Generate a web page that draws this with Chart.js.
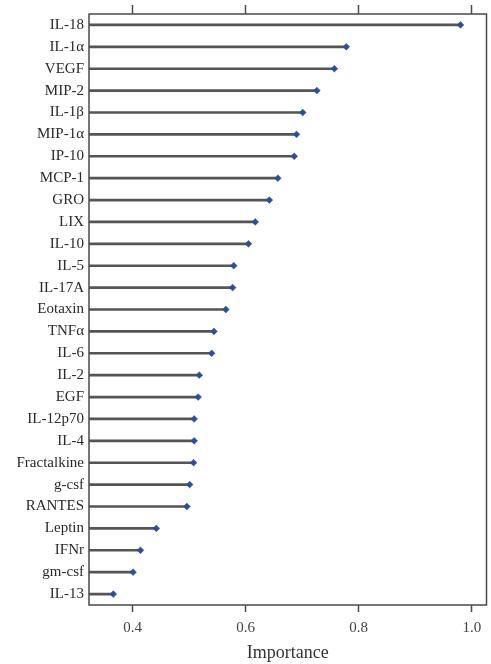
<!DOCTYPE html>
<html>
<head>
<meta charset="utf-8">
<script src="https://cdn.jsdelivr.net/npm/chart.js@4"></script>
<style>
  html, body { margin: 0; padding: 0; background: #fff; }
  #wrap { width: 491px; height: 664px; }
</style>
</head>
<body>
<div id="wrap"><canvas id="importanceChart"></canvas></div>
<script>
/* --------------- Data --------------------- */
const cytokines = [
  "IL-18", "IL-1α", "VEGF", "MIP-2", "IL-1β", "MIP-1α", "IP-10", "MCP-1", "GRO",
  "LIX", "IL-10", "IL-5", "IL-17A", "Eotaxin", "TNFα", "IL-6", "IL-2", "EGF",
  "IL-12p70", "IL-4", "Fractalkine", "g-csf", "RANTES", "Leptin", "IFNr", "gm-csf", "IL-13"
];
const importance = [
  0.980, 0.778, 0.757, 0.726, 0.701, 0.690, 0.686, 0.657, 0.642,
  0.617, 0.605, 0.579, 0.577, 0.565, 0.544, 0.540, 0.518, 0.516,
  0.509, 0.509, 0.508, 0.501, 0.496, 0.442, 0.414, 0.401, 0.366
];
const xTicks = [0.4, 0.6, 0.8, 1.0];
const xMin = 0.323;
const xMax = 1.026;

const serif = "'Liberation Serif', 'DejaVu Serif', serif";
const axisColor = "#4a4a4a";

/* --------------- Box around the plot --------------------- */
const frame = {
  id: "frame",
  afterDraw(chart) {
    const { ctx, chartArea: a } = chart;
    ctx.save();
    ctx.strokeStyle = axisColor;
    ctx.lineWidth = 1.5;
    ctx.strokeRect(a.left, a.top, a.right - a.left, a.bottom - a.top);
    ctx.restore();
  },
};

const setTicks = (scale) => {
  scale.ticks = xTicks.map((v) => ({ value: v }));
};

new Chart(document.getElementById("importanceChart"), {
  type: "bar",
  plugins: [frame],
  data: {
    labels: cytokines,
    datasets: [
      {
        type: "line",
        indexAxis: "y",
        data: importance,
        showLine: false,
        pointStyle: "rectRot",
        pointRadius: 3.4,
        pointBackgroundColor: "#2d4f98",
        pointBorderColor: "#2d4f98",
        pointBorderWidth: 0.5,
        clip: false,
      },
      {
        type: "bar",
        indexAxis: "y",
        data: importance,
        base: xMin,
        barThickness: 2,
        backgroundColor: "#555555",
      },
    ],
  },
  options: {
    indexAxis: "y",
    responsive: true,
    maintainAspectRatio: false,
    animation: false,
    layout: { padding: { left: 0, right: 0, top: 0, bottom: 0 } },
    plugins: {
      legend: { display: false },
      tooltip: { enabled: false },
    },
    scales: {
      x: {
        type: "linear",
        position: "bottom",
        min: xMin,
        max: xMax,
        afterBuildTicks: setTicks,
        afterFit: (s) => { s.height = 59; },
        border: { display: false },
        grid: {
          drawOnChartArea: false,
          drawTicks: true,
          tickLength: 7,
          tickWidth: 1.5,
          tickColor: axisColor,
        },
        ticks: {
          padding: 7,
          color: "#444",
          font: { family: serif, size: 15 },
          callback: (v) => Number(v).toFixed(1),
        },
        title: {
          display: true,
          text: "Importance",
          color: "#333",
          font: { family: serif, size: 18 },
          padding: { top: 4, bottom: 0 },
        },
      },
      xTop: {
        type: "linear",
        position: "top",
        min: xMin,
        max: xMax,
        afterBuildTicks: setTicks,
        afterFit: (s) => { s.height = 14; },
        border: { display: false },
        grid: {
          drawOnChartArea: false,
          drawTicks: true,
          tickLength: 9,
          tickWidth: 1.5,
          tickColor: axisColor,
        },
        ticks: { display: false },
      },
      y: {
        type: "category",
        position: "left",
        afterFit: (s) => { s.width = 89; },
        border: { display: false },
        grid: { display: false, drawTicks: false },
        ticks: {
          padding: 5,
          color: "#2a2a2a",
          font: { family: serif, size: 15 },
          autoSkip: false,
        },
      },
    },
  },
});
</script>
</body>
</html>
